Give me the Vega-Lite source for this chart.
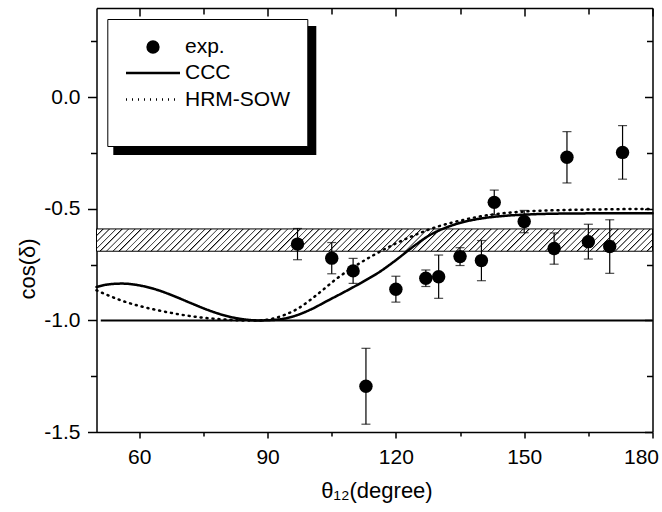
{
"$schema":"https://vega.github.io/schema/vega-lite/v6.json",
"width":556,"height":424,
"autosize":{"type":"none"},
"padding":{"left":96.5,"top":8,"right":9.5,"bottom":80},
"background":"white",
"config":{"view":{"stroke":null},"font":"Liberation Sans",
"legend":{"gradientHorizontalMaxLength":400,"gradientHorizontalMinLength":10},
"axis":{"domainColor":"black","domainWidth":1.5,"tickColor":"black","tickWidth":1.5,"grid":false,"labelColor":"black","titleColor":"black","labelFont":"Liberation Sans","titleFont":"Liberation Sans","titleFontWeight":"normal"}},
"datasets":{
"band":[{"lo":-0.69,"hi":-0.59}],
"pts":[
{"x":97,"y":-0.658,"e":0.07},
{"x":105,"y":-0.721,"e":0.07},
{"x":110,"y":-0.778,"e":0.056},
{"x":113,"y":-1.295,"e":0.17},
{"x":120,"y":-0.86,"e":0.058},
{"x":127,"y":-0.811,"e":0.037},
{"x":130,"y":-0.804,"e":0.097},
{"x":135,"y":-0.714,"e":0.04},
{"x":140,"y":-0.732,"e":0.09},
{"x":143,"y":-0.471,"e":0.055},
{"x":150,"y":-0.557,"e":0.05},
{"x":157,"y":-0.678,"e":0.07},
{"x":160,"y":-0.269,"e":0.115},
{"x":165,"y":-0.647,"e":0.078},
{"x":170,"y":-0.669,"e":0.12},
{"x":173,"y":-0.247,"e":0.12}],
"curves":[
{"series":"CCC","x":50,"y":-0.85},{"series":"CCC","x":53,"y":-0.838},{"series":"CCC","x":56,"y":-0.835},{"series":"CCC","x":60,"y":-0.843},{"series":"CCC","x":64,"y":-0.862},{"series":"CCC","x":68,"y":-0.89},{"series":"CCC","x":72,"y":-0.922},{"series":"CCC","x":76,"y":-0.953},{"series":"CCC","x":80,"y":-0.978},{"series":"CCC","x":84,"y":-0.994},{"series":"CCC","x":88,"y":-1.0},{"series":"CCC","x":92,"y":-0.997},{"series":"CCC","x":96,"y":-0.982},{"series":"CCC","x":100,"y":-0.952},{"series":"CCC","x":104,"y":-0.912},{"series":"CCC","x":108,"y":-0.872},{"series":"CCC","x":112,"y":-0.83},{"series":"CCC","x":116,"y":-0.785},{"series":"CCC","x":120,"y":-0.73},{"series":"CCC","x":124,"y":-0.67},{"series":"CCC","x":128,"y":-0.617},{"series":"CCC","x":132,"y":-0.582},{"series":"CCC","x":136,"y":-0.558},{"series":"CCC","x":140,"y":-0.543},{"series":"CCC","x":145,"y":-0.532},{"series":"CCC","x":150,"y":-0.526},{"series":"CCC","x":160,"y":-0.521},{"series":"CCC","x":170,"y":-0.52},{"series":"CCC","x":180,"y":-0.52},
{"series":"HRM-SOW","x":50,"y":-0.865},{"series":"HRM-SOW","x":52,"y":-0.882},{"series":"HRM-SOW","x":56,"y":-0.912},{"series":"HRM-SOW","x":60,"y":-0.935},{"series":"HRM-SOW","x":65,"y":-0.957},{"series":"HRM-SOW","x":70,"y":-0.975},{"series":"HRM-SOW","x":75,"y":-0.988},{"series":"HRM-SOW","x":80,"y":-0.996},{"series":"HRM-SOW","x":85,"y":-1.0},{"series":"HRM-SOW","x":88,"y":-1.0},{"series":"HRM-SOW","x":91,"y":-0.993},{"series":"HRM-SOW","x":94,"y":-0.975},{"series":"HRM-SOW","x":97,"y":-0.948},{"series":"HRM-SOW","x":100,"y":-0.908},{"series":"HRM-SOW","x":103,"y":-0.862},{"series":"HRM-SOW","x":106,"y":-0.815},{"series":"HRM-SOW","x":110,"y":-0.762},{"series":"HRM-SOW","x":115,"y":-0.705},{"series":"HRM-SOW","x":120,"y":-0.655},{"series":"HRM-SOW","x":125,"y":-0.613},{"series":"HRM-SOW","x":130,"y":-0.578},{"series":"HRM-SOW","x":135,"y":-0.553},{"series":"HRM-SOW","x":140,"y":-0.533},{"series":"HRM-SOW","x":145,"y":-0.52},{"series":"HRM-SOW","x":150,"y":-0.512},{"series":"HRM-SOW","x":160,"y":-0.505},{"series":"HRM-SOW","x":170,"y":-0.502},{"series":"HRM-SOW","x":180,"y":-0.5}]
},
"layer":[
{"data":{"name":"band"},
"mark":{"type":"rect","stroke":"black","strokeWidth":1,
"fill":{"gradient":"linear","x1":0,"y1":0,"x2":1.0384,"y2":0.04164,"stops":[
{"offset":0,"color":"#000"},{"offset":0.003,"color":"#fff"},{"offset":0.0104,"color":"#fff"},
{"offset":0.011,"color":"#000"},{"offset":0.014,"color":"#fff"},{"offset":0.0214,"color":"#fff"},
{"offset":0.022,"color":"#000"},{"offset":0.025,"color":"#fff"},{"offset":0.0324,"color":"#fff"},
{"offset":0.033,"color":"#000"},{"offset":0.036,"color":"#fff"},{"offset":0.0434,"color":"#fff"},
{"offset":0.044,"color":"#000"},{"offset":0.047,"color":"#fff"},{"offset":0.0544,"color":"#fff"},
{"offset":0.055,"color":"#000"},{"offset":0.058,"color":"#fff"},{"offset":0.0654,"color":"#fff"},
{"offset":0.066,"color":"#000"},{"offset":0.069,"color":"#fff"},{"offset":0.0764,"color":"#fff"},
{"offset":0.077,"color":"#000"},{"offset":0.08,"color":"#fff"},{"offset":0.0874,"color":"#fff"},
{"offset":0.088,"color":"#000"},{"offset":0.091,"color":"#fff"},{"offset":0.0984,"color":"#fff"},
{"offset":0.099,"color":"#000"},{"offset":0.102,"color":"#fff"},{"offset":0.1094,"color":"#fff"},
{"offset":0.11,"color":"#000"},{"offset":0.113,"color":"#fff"},{"offset":0.1204,"color":"#fff"},
{"offset":0.121,"color":"#000"},{"offset":0.124,"color":"#fff"},{"offset":0.1314,"color":"#fff"},
{"offset":0.132,"color":"#000"},{"offset":0.135,"color":"#fff"},{"offset":0.1424,"color":"#fff"},
{"offset":0.143,"color":"#000"},{"offset":0.146,"color":"#fff"},{"offset":0.1534,"color":"#fff"},
{"offset":0.154,"color":"#000"},{"offset":0.157,"color":"#fff"},{"offset":0.1644,"color":"#fff"},
{"offset":0.165,"color":"#000"},{"offset":0.168,"color":"#fff"},{"offset":0.1754,"color":"#fff"},
{"offset":0.176,"color":"#000"},{"offset":0.179,"color":"#fff"},{"offset":0.1864,"color":"#fff"},
{"offset":0.187,"color":"#000"},{"offset":0.19,"color":"#fff"},{"offset":0.1974,"color":"#fff"},
{"offset":0.198,"color":"#000"},{"offset":0.201,"color":"#fff"},{"offset":0.2084,"color":"#fff"},
{"offset":0.209,"color":"#000"},{"offset":0.212,"color":"#fff"},{"offset":0.2194,"color":"#fff"},
{"offset":0.22,"color":"#000"},{"offset":0.223,"color":"#fff"},{"offset":0.2304,"color":"#fff"},
{"offset":0.231,"color":"#000"},{"offset":0.234,"color":"#fff"},{"offset":0.2414,"color":"#fff"},
{"offset":0.242,"color":"#000"},{"offset":0.245,"color":"#fff"},{"offset":0.2524,"color":"#fff"},
{"offset":0.253,"color":"#000"},{"offset":0.256,"color":"#fff"},{"offset":0.2634,"color":"#fff"},
{"offset":0.264,"color":"#000"},{"offset":0.267,"color":"#fff"},{"offset":0.2744,"color":"#fff"},
{"offset":0.275,"color":"#000"},{"offset":0.278,"color":"#fff"},{"offset":0.2854,"color":"#fff"},
{"offset":0.286,"color":"#000"},{"offset":0.289,"color":"#fff"},{"offset":0.2964,"color":"#fff"},
{"offset":0.297,"color":"#000"},{"offset":0.3,"color":"#fff"},{"offset":0.3074,"color":"#fff"},
{"offset":0.308,"color":"#000"},{"offset":0.311,"color":"#fff"},{"offset":0.3184,"color":"#fff"},
{"offset":0.319,"color":"#000"},{"offset":0.322,"color":"#fff"},{"offset":0.3294,"color":"#fff"},
{"offset":0.33,"color":"#000"},{"offset":0.333,"color":"#fff"},{"offset":0.3404,"color":"#fff"},
{"offset":0.341,"color":"#000"},{"offset":0.344,"color":"#fff"},{"offset":0.3514,"color":"#fff"},
{"offset":0.352,"color":"#000"},{"offset":0.355,"color":"#fff"},{"offset":0.3624,"color":"#fff"},
{"offset":0.363,"color":"#000"},{"offset":0.366,"color":"#fff"},{"offset":0.3734,"color":"#fff"},
{"offset":0.374,"color":"#000"},{"offset":0.377,"color":"#fff"},{"offset":0.3844,"color":"#fff"},
{"offset":0.385,"color":"#000"},{"offset":0.388,"color":"#fff"},{"offset":0.3954,"color":"#fff"},
{"offset":0.396,"color":"#000"},{"offset":0.399,"color":"#fff"},{"offset":0.4064,"color":"#fff"},
{"offset":0.407,"color":"#000"},{"offset":0.41,"color":"#fff"},{"offset":0.4174,"color":"#fff"},
{"offset":0.418,"color":"#000"},{"offset":0.421,"color":"#fff"},{"offset":0.4284,"color":"#fff"},
{"offset":0.429,"color":"#000"},{"offset":0.432,"color":"#fff"},{"offset":0.4394,"color":"#fff"},
{"offset":0.44,"color":"#000"},{"offset":0.443,"color":"#fff"},{"offset":0.4504,"color":"#fff"},
{"offset":0.451,"color":"#000"},{"offset":0.454,"color":"#fff"},{"offset":0.4614,"color":"#fff"},
{"offset":0.462,"color":"#000"},{"offset":0.465,"color":"#fff"},{"offset":0.4724,"color":"#fff"},
{"offset":0.473,"color":"#000"},{"offset":0.476,"color":"#fff"},{"offset":0.4834,"color":"#fff"},
{"offset":0.484,"color":"#000"},{"offset":0.487,"color":"#fff"},{"offset":0.4944,"color":"#fff"},
{"offset":0.495,"color":"#000"},{"offset":0.498,"color":"#fff"},{"offset":0.5054,"color":"#fff"},
{"offset":0.506,"color":"#000"},{"offset":0.509,"color":"#fff"},{"offset":0.5164,"color":"#fff"},
{"offset":0.517,"color":"#000"},{"offset":0.52,"color":"#fff"},{"offset":0.5274,"color":"#fff"},
{"offset":0.528,"color":"#000"},{"offset":0.531,"color":"#fff"},{"offset":0.5384,"color":"#fff"},
{"offset":0.539,"color":"#000"},{"offset":0.542,"color":"#fff"},{"offset":0.5494,"color":"#fff"},
{"offset":0.55,"color":"#000"},{"offset":0.553,"color":"#fff"},{"offset":0.5604,"color":"#fff"},
{"offset":0.561,"color":"#000"},{"offset":0.564,"color":"#fff"},{"offset":0.5714,"color":"#fff"},
{"offset":0.572,"color":"#000"},{"offset":0.575,"color":"#fff"},{"offset":0.5824,"color":"#fff"},
{"offset":0.583,"color":"#000"},{"offset":0.586,"color":"#fff"},{"offset":0.5934,"color":"#fff"},
{"offset":0.594,"color":"#000"},{"offset":0.597,"color":"#fff"},{"offset":0.6044,"color":"#fff"},
{"offset":0.605,"color":"#000"},{"offset":0.608,"color":"#fff"},{"offset":0.6154,"color":"#fff"},
{"offset":0.616,"color":"#000"},{"offset":0.619,"color":"#fff"},{"offset":0.6264,"color":"#fff"},
{"offset":0.627,"color":"#000"},{"offset":0.63,"color":"#fff"},{"offset":0.6374,"color":"#fff"},
{"offset":0.638,"color":"#000"},{"offset":0.641,"color":"#fff"},{"offset":0.6484,"color":"#fff"},
{"offset":0.649,"color":"#000"},{"offset":0.652,"color":"#fff"},{"offset":0.6594,"color":"#fff"},
{"offset":0.66,"color":"#000"},{"offset":0.663,"color":"#fff"},{"offset":0.6704,"color":"#fff"},
{"offset":0.671,"color":"#000"},{"offset":0.674,"color":"#fff"},{"offset":0.6814,"color":"#fff"},
{"offset":0.682,"color":"#000"},{"offset":0.685,"color":"#fff"},{"offset":0.6924,"color":"#fff"},
{"offset":0.693,"color":"#000"},{"offset":0.696,"color":"#fff"},{"offset":0.7034,"color":"#fff"},
{"offset":0.704,"color":"#000"},{"offset":0.707,"color":"#fff"},{"offset":0.7144,"color":"#fff"},
{"offset":0.715,"color":"#000"},{"offset":0.718,"color":"#fff"},{"offset":0.7254,"color":"#fff"},
{"offset":0.726,"color":"#000"},{"offset":0.729,"color":"#fff"},{"offset":0.7364,"color":"#fff"},
{"offset":0.737,"color":"#000"},{"offset":0.74,"color":"#fff"},{"offset":0.7474,"color":"#fff"},
{"offset":0.748,"color":"#000"},{"offset":0.751,"color":"#fff"},{"offset":0.7584,"color":"#fff"},
{"offset":0.759,"color":"#000"},{"offset":0.762,"color":"#fff"},{"offset":0.7694,"color":"#fff"},
{"offset":0.77,"color":"#000"},{"offset":0.773,"color":"#fff"},{"offset":0.7804,"color":"#fff"},
{"offset":0.781,"color":"#000"},{"offset":0.784,"color":"#fff"},{"offset":0.7914,"color":"#fff"},
{"offset":0.792,"color":"#000"},{"offset":0.795,"color":"#fff"},{"offset":0.8024,"color":"#fff"},
{"offset":0.803,"color":"#000"},{"offset":0.806,"color":"#fff"},{"offset":0.8134,"color":"#fff"},
{"offset":0.814,"color":"#000"},{"offset":0.817,"color":"#fff"},{"offset":0.8244,"color":"#fff"},
{"offset":0.825,"color":"#000"},{"offset":0.828,"color":"#fff"},{"offset":0.8354,"color":"#fff"},
{"offset":0.836,"color":"#000"},{"offset":0.839,"color":"#fff"},{"offset":0.8464,"color":"#fff"},
{"offset":0.847,"color":"#000"},{"offset":0.85,"color":"#fff"},{"offset":0.8574,"color":"#fff"},
{"offset":0.858,"color":"#000"},{"offset":0.861,"color":"#fff"},{"offset":0.8684,"color":"#fff"},
{"offset":0.869,"color":"#000"},{"offset":0.872,"color":"#fff"},{"offset":0.8794,"color":"#fff"},
{"offset":0.88,"color":"#000"},{"offset":0.883,"color":"#fff"},{"offset":0.8904,"color":"#fff"},
{"offset":0.891,"color":"#000"},{"offset":0.894,"color":"#fff"},{"offset":0.9014,"color":"#fff"},
{"offset":0.902,"color":"#000"},{"offset":0.905,"color":"#fff"},{"offset":0.9124,"color":"#fff"},
{"offset":0.913,"color":"#000"},{"offset":0.916,"color":"#fff"},{"offset":0.9234,"color":"#fff"},
{"offset":0.924,"color":"#000"},{"offset":0.927,"color":"#fff"},{"offset":0.9344,"color":"#fff"},
{"offset":0.935,"color":"#000"},{"offset":0.938,"color":"#fff"},{"offset":0.9454,"color":"#fff"},
{"offset":0.946,"color":"#000"},{"offset":0.949,"color":"#fff"},{"offset":0.9564,"color":"#fff"},
{"offset":0.957,"color":"#000"},{"offset":0.96,"color":"#fff"},{"offset":0.9674,"color":"#fff"},
{"offset":0.968,"color":"#000"},{"offset":0.971,"color":"#fff"},{"offset":0.9784,"color":"#fff"},
{"offset":0.979,"color":"#000"},{"offset":0.982,"color":"#fff"},{"offset":0.9894,"color":"#fff"},
{"offset":0.99,"color":"#000"},{"offset":0.993,"color":"#fff"},{"offset":1,"color":"#fff"}]}},
"encoding":{
"x":{"datum":50,"type":"quantitative","scale":{"domain":[50,180],"nice":false,"zero":false},
"axis":{"orient":"bottom","values":[60,75,90,105,120,135,150,165,180],"labelExpr":"datum.value % 30 === 0 ? datum.label : ''",
"tickSize":{"condition":{"test":"datum.value % 30 === 0","value":6},"value":4},
"labelFontSize":21,"labelPadding":8,"labelFlush":1,"labelFlushOffset":6,
"title":"θ₁₂(degree)","titleFontSize":22,"titleX":280,"titleY":65,"titleBaseline":"alphabetic","titleAlign":"center"}},
"x2":{"datum":180},
"y":{"field":"lo","type":"quantitative","scale":{"domain":[-1.5,0.4],"nice":false,"zero":false},
"axis":{"orient":"left","values":[-1.5,-1.25,-1,-0.75,-0.5,-0.25,0,0.25],
"labelExpr":"datum.value === 0 ? '0.0' : datum.value === -0.5 ? '-0.5' : datum.value === -1 ? '-1.0' : datum.value === -1.5 ? '-1.5' : ''",
"tickSize":{"condition":{"test":"datum.value * 4 % 2 === 0","value":9},"value":6},
"labelFontSize":21,"labelPadding":7.5,
"title":"cos(δ)","titleFontSize":22,"titleX":-69.5,"titleY":260.5,"titleAngle":270,"titleAlign":"center","titleBaseline":"middle"}},
"y2":{"field":"hi"}}},
{"data":{"name":"band"},
"mark":{"type":"rule","strokeWidth":2},
"encoding":{
"x":{"datum":51,"type":"quantitative",
"axis":{"orient":"top","values":[60,75,90,105,120,135,150,165,180],"labels":false,"title":null,
"tickSize":{"condition":{"test":"datum.value % 30 === 0","value":-8},"value":-6}}},
"x2":{"datum":180},
"y":{"datum":-1,"type":"quantitative",
"axis":{"orient":"right","values":[-1.5,-1.25,-1,-0.75,-0.5,-0.25,0,0.25],"labels":false,"title":null,
"tickSize":{"condition":{"test":"datum.value * 4 % 2 === 0","value":-8},"value":-6}}},
"color":{"datum":0,"type":"quantitative","scale":{"domain":[0,1],"range":["black","black"]},
"legend":{"orient":"none","legendX":16.8,"legendY":18,"direction":"horizontal","gradientLength":203,"gradientThickness":129,"gradientStrokeWidth":0,"labelExpr":"''","title":null,"padding":0}}}},
{"data":{"name":"curves"},
"mark":{"type":"line","color":"black","strokeWidth":2.5,"strokeCap":"round","interpolate":"monotone"},
"encoding":{
"x":{"field":"x","type":"quantitative","axis":null},
"y":{"field":"y","type":"quantitative","axis":null},
"strokeDash":{"field":"series","type":"nominal","scale":{"domain":["exp.","CCC","HRM-SOW"],"range":[[0,100],[1,0],[1,5]]},
"legend":{"orient":"none","legendX":10.8,"legendY":11,"title":"\u00a0","titleOrient":"bottom","titleFontSize":12,"titlePadding":8,
"padding":17,"fillColor":"white","strokeColor":"black","symbolSize":324,"symbolStrokeWidth":2.5,"symbolStrokeColor":"black","symbolType":"M-3,0H3",
"rowPadding":4.5,"labelFont":"Liberation Sans","labelFontSize":21,"labelColor":"black","labelOffset":21.5,"symbolOffset":18.2,"labelLimit":300}}}},
{"data":{"name":"pts"},
"mark":{"type":"errorbar","color":"black","thickness":1.2,"ticks":{"size":9,"thickness":1.2,"color":"black"}},
"encoding":{
"x":{"field":"x","type":"quantitative","axis":null},
"y":{"field":"y","type":"quantitative","axis":null},
"yError":{"field":"e"}}},
{"data":{"name":"pts"},
"mark":{"type":"point","filled":true,"size":180,"color":"black","opacity":1},
"encoding":{
"x":{"field":"x","type":"quantitative","axis":null},
"y":{"field":"y","type":"quantitative","axis":null},
"shape":{"datum":"exp.","type":"nominal","scale":{"range":["circle"]},
"legend":{"orient":"none","legendX":49.5,"legendY":32,"title":null,"labelExpr":"''","padding":0,"symbolSize":177,"symbolFillColor":"black","symbolStrokeWidth":0,"labelFontSize":10,"labelOffset":0}}}}
],
"resolve":{"axis":{"x":"independent","y":"independent"}}
}
